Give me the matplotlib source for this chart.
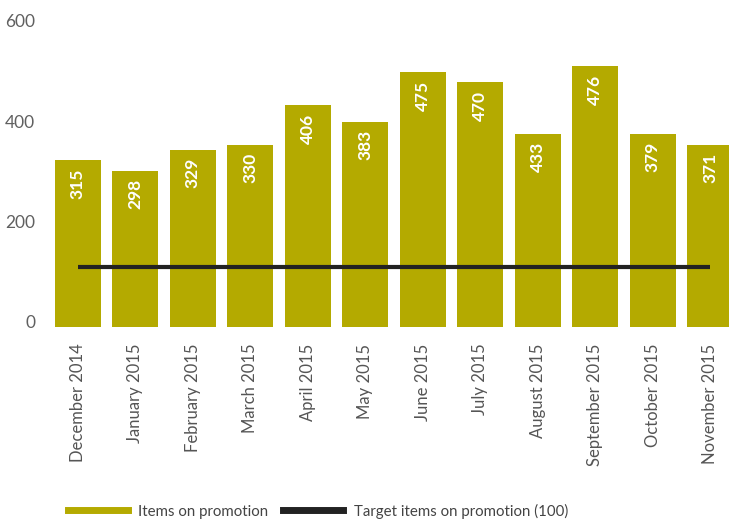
import numpy as np
import matplotlib
matplotlib.use("Agg")
import matplotlib.pyplot as plt
from matplotlib.lines import Line2D
from matplotlib.transforms import ScaledTranslation

months = ["December 2014", "January 2015", "February 2015", "March 2015",
          "April 2015", "May 2015", "June 2015", "July 2015", "August 2015",
          "September 2015", "October 2015", "November 2015"]
bar_heights = [333, 311, 353, 363, 442, 409, 508, 488, 385, 520, 385, 363]
bar_labels = [315, 298, 329, 330, 406, 383, 475, 470, 433, 476, 379, 371]
target = [120] * 12
yticks = [0, 200, 400, 600]

plt.rcParams['font.family'] = ['Lato', 'DejaVu Sans']

W, H = 729, 520
fig = plt.figure(figsize=(W / 100, H / 100), dpi=100)
# plot area in pixels: x 49..739, y 26..327 (top to bottom)
ax = fig.add_axes([49 / W, (H - 327) / H, 690 / W, 301 / H])

x = np.arange(len(months))
bar_col = "#b4aa00"
ax.bar(x, bar_heights, width=0.8, color=bar_col, zorder=2)
ax.plot(x, target, color="#222222", lw=3, zorder=3, solid_capstyle="butt")

for xi, h, lab in zip(x, bar_heights, bar_labels):
    ax.annotate(str(lab), (xi, h), xytext=(0, -6), textcoords="offset points",
                ha="center", va="top", rotation=90, color="white",
                fontsize=12.5, fontweight="bold", zorder=4)

ax.set_xlim(-0.5, len(months) - 0.5)
ax.set_ylim(0, 600)
ax.set_yticks(yticks)
ax.set_xticks(x)
ax.set_xticklabels(months, rotation=90, fontsize=12, color="#555555")
ax.tick_params(axis="x", length=0, pad=12)
ax.tick_params(axis="y", length=0, pad=10, labelsize=12.5, labelcolor="#606060")
# y labels sit a little above their gridline in the original
for lbl in ax.get_yticklabels():
    lbl.set_transform(lbl.get_transform() + ScaledTranslation(0, 0.05, fig.dpi_scale_trans))
for s in ax.spines.values():
    s.set_visible(False)

handles = [Line2D([0], [0], color=bar_col, lw=5),
           Line2D([0], [0], color="#222222", lw=5)]
fig.legend(handles, ["Items on promotion", "Target items on promotion (100)"],
           loc="center left", bbox_to_anchor=(54 / W, 1 - 511 / H), ncol=2,
           frameon=False, fontsize=10.8, handlelength=4.0, handletextpad=0.7,
           columnspacing=1.0, labelcolor="#444444")

fig.savefig("out.png", dpi=100)
